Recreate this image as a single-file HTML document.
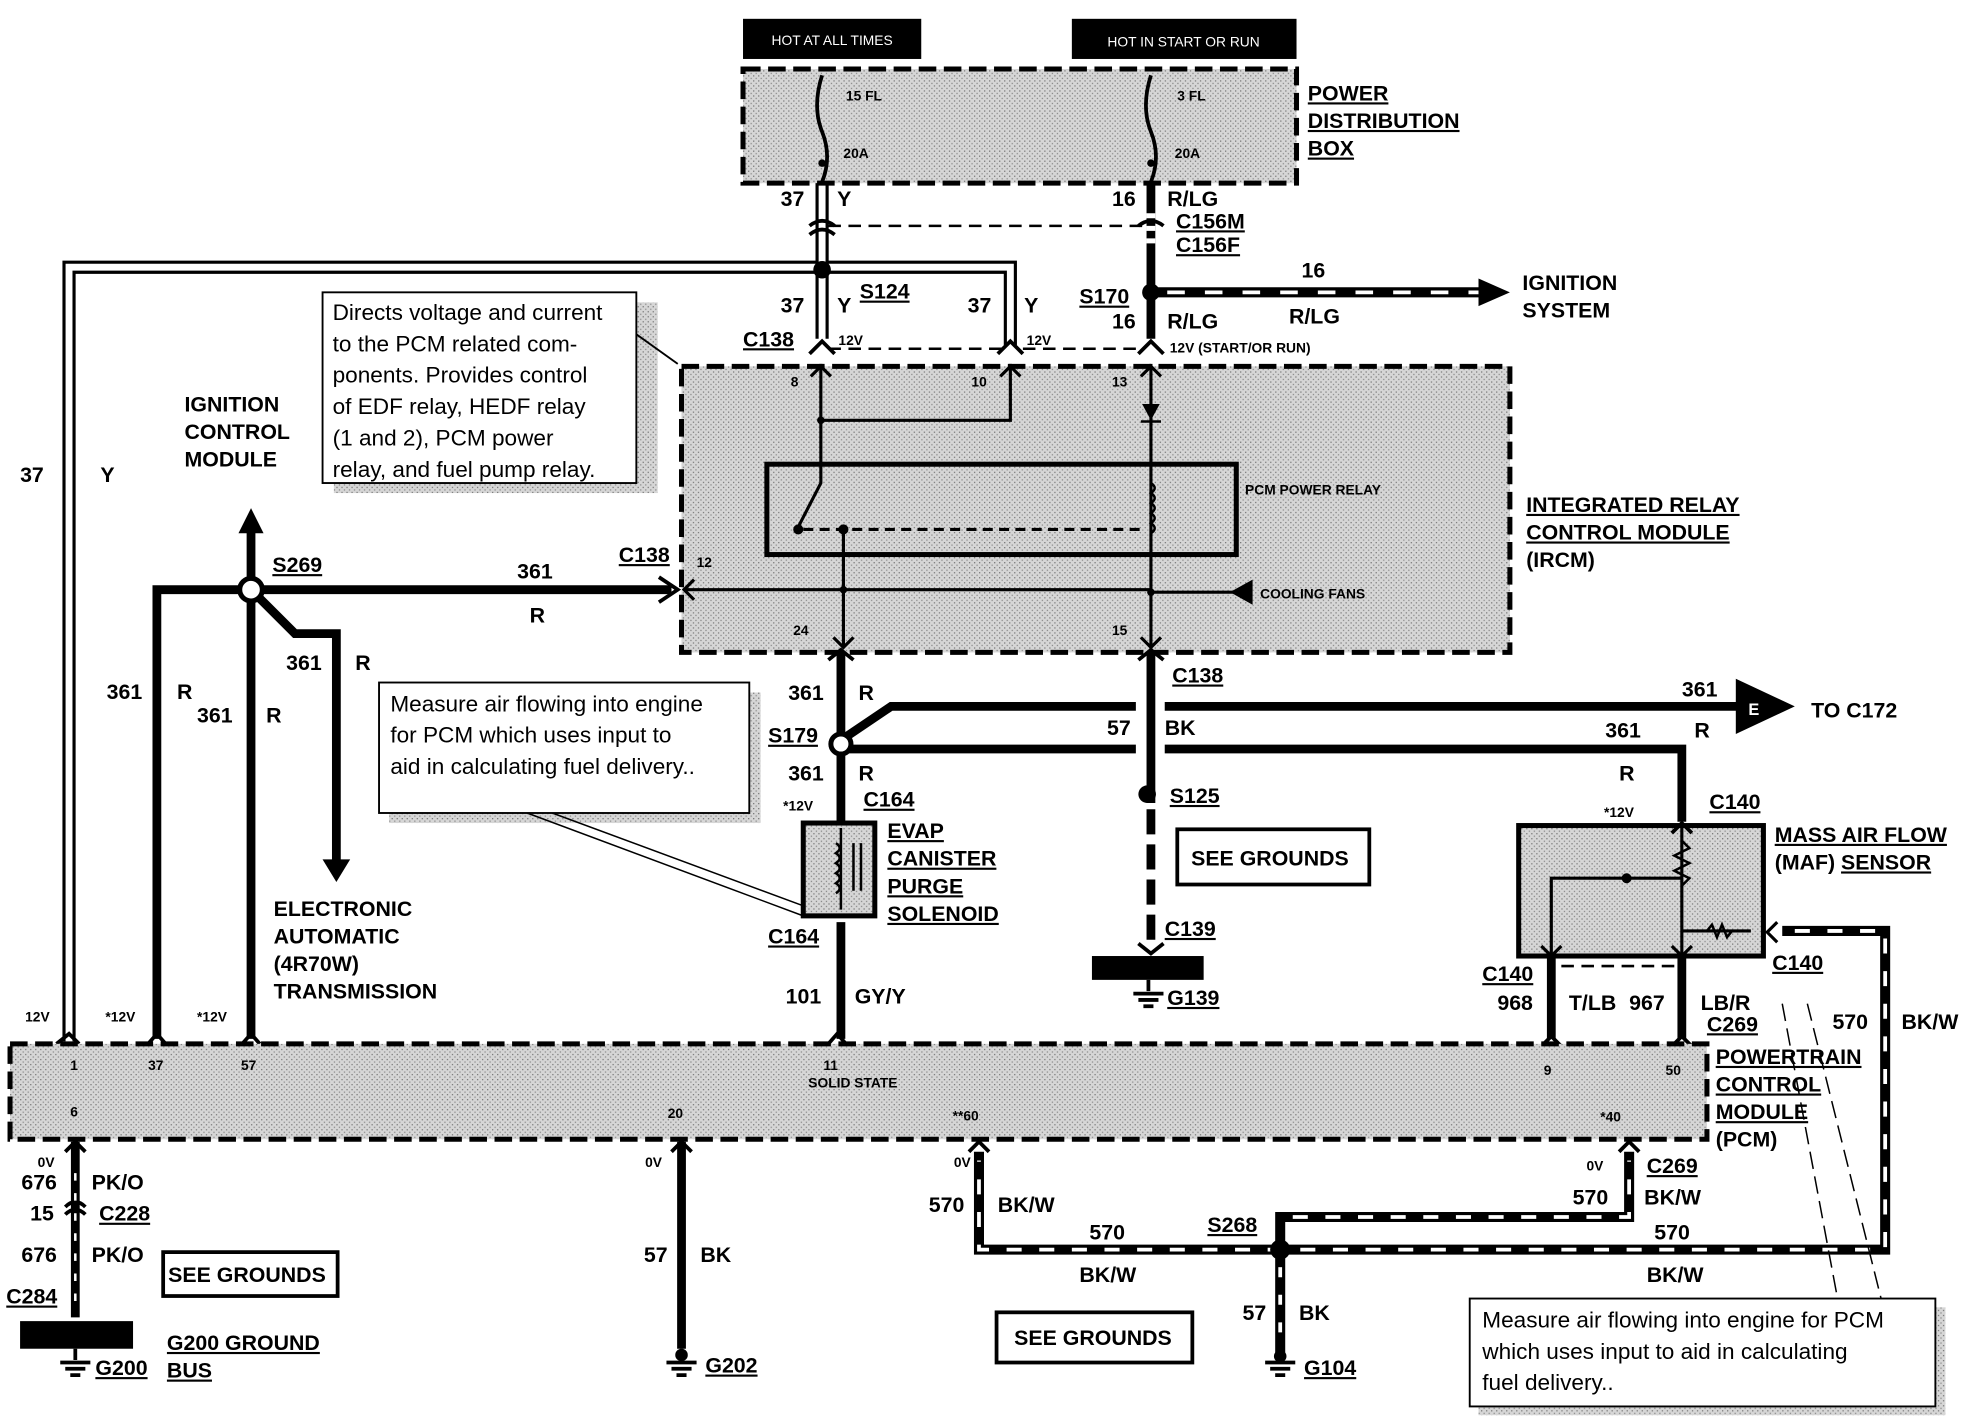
<!DOCTYPE html>
<html><head><meta charset="utf-8"><style>
html,body{margin:0;padding:0;background:#fff}
svg{display:block}
text{font-family:"Liberation Sans",Arial,sans-serif;font-weight:bold;fill:#000}
.s{font-size:11px}
.m{font-size:16px}
.l{font-size:17px}
.n{font-size:18px;font-weight:normal}
.u{text-decoration:underline}
</style></head><body>
<svg width="1968" height="1424" viewBox="0 0 1568 1135" preserveAspectRatio="none" xmlns="http://www.w3.org/2000/svg">
<defs>
<pattern id="g" width="4" height="4" patternUnits="userSpaceOnUse"><rect width="4" height="4" fill="#d6d6d6"/><rect width="1" height="1" fill="#777"/><rect x="2" y="2" width="1" height="1" fill="#888"/></pattern>
</defs>
<rect width="1568" height="1135" fill="#fff"/>
<rect x="592" y="15" width="142" height="32" fill="#000"/><text x="663" y="36" class="s" text-anchor="middle" style="fill:#fff;font-weight:normal">HOT AT ALL TIMES</text>
<rect x="854" y="15" width="179" height="32" fill="#000"/><text x="943" y="37" class="s" text-anchor="middle" style="fill:#fff;font-weight:normal">HOT IN START OR RUN</text>
<rect x="592" y="55" width="441" height="91" fill="url(#g)" stroke="#000" stroke-width="4" stroke-dasharray="14,6"/>
<path d="M655 60 q-8 25 0 45 q8 20 0 40 M917 60 q-8 25 0 45 q8 20 0 40" stroke="#000" stroke-width="3" fill="none"/>
<circle cx="655" cy="130" r="3"/><circle cx="917" cy="130" r="3"/>
<text x="674" y="80" class="s">15 FL</text><text x="672" y="126" class="s">20A</text>
<text x="938" y="80" class="s">3 FL</text><text x="936" y="126" class="s">20A</text>
<text x="1042" y="80" class="l u">POWER</text><text x="1042" y="102" class="l u">DISTRIBUTION</text><text x="1042" y="124" class="l u">BOX</text>
<g fill="none" stroke="#000">
<path d="M651 146 V270 M659 146 V270" stroke-width="2.5"/>
<path d="M51 830 V209 H651 M59 830 V217 H651 M659 209 H809 V275 M659 217 H801 V275" stroke-width="2.5"/>
<path d="M660 180 H912" stroke-width="2" stroke-dasharray="10,6"/>
<path d="M917 146 V270" stroke-width="7"/>
<path d="M917 170 V200" stroke-width="7" stroke="#fff" stroke-dasharray="4,6"/>
<path d="M917 233 H1180" stroke-width="8"/>
<path d="M930 233 H1180" stroke-width="3" stroke="#fff" stroke-dasharray="14,16"/>
</g>
<path d="M1178 222 L1203 233 L1178 244Z"/>
<path d="M645 180 q10 -8 20 0 M645 187 q10 -8 20 0 M907 180 q10 -8 20 0" stroke="#000" stroke-width="3" fill="none"/>
<circle cx="655" cy="215" r="7"/><circle cx="917" cy="233" r="7"/>
<text x="622" y="164" class="l">37</text><text x="667" y="164" class="l">Y</text>
<text x="886" y="164" class="l">16</text><text x="930" y="164" class="l">R/LG</text>
<text x="937" y="182" class="l u">C156M</text><text x="937" y="201" class="l u">C156F</text>
<text x="1037" y="221" class="l">16</text><text x="1027" y="258" class="l">R/LG</text>
<text x="1213" y="231" class="l">IGNITION</text><text x="1213" y="253" class="l">SYSTEM</text>
<text x="622" y="249" class="l">37</text><text x="667" y="249" class="l">Y</text><text x="685" y="238" class="l u">S124</text>
<text x="771" y="249" class="l">37</text><text x="816" y="249" class="l">Y</text>
<text x="860" y="242" class="l u">S170</text><text x="886" y="262" class="l">16</text><text x="930" y="262" class="l">R/LG</text>
<text x="592" y="276" class="l u">C138</text><text x="668" y="275" class="s">12V</text><text x="818" y="275" class="s">12V</text>
<text x="932" y="281" class="s">12V (START/OR RUN)</text>
<path d="M645 282 l10 -10 10 10 M795 282 l10 -10 10 10 M907 282 l10 -10 10 10" stroke="#000" stroke-width="3" fill="none"/>
<path d="M660 278 H800 M815 278 H905" stroke="#000" stroke-width="2" stroke-dasharray="10,6"/>
<rect x="543" y="292" width="660" height="228" fill="url(#g)" stroke="#000" stroke-width="4" stroke-dasharray="14,6"/>
<g fill="none" stroke="#000" stroke-width="2.5">
<path d="M654 290 V385 L636 420 M654 335 H805 V290 M917 290 V520 M672 420 V515 M545 470 H917 M917 472 H985"/>
<path d="M640 422 H910" stroke-dasharray="8,5"/>
<path d="M646 300 l8 -8 8 8 M797 300 l8 -8 8 8 M909 300 l8 -8 8 8 M664 508 l8 8 8 -8 M909 508 l8 8 8 -8 M553 462 l-8 8 8 8"/>
<path d="M917 385 q6 4 0 8 q6 4 0 8 q6 4 0 8 q6 4 0 8 q6 4 0 8" stroke-width="2"/>
</g>
<rect x="611" y="370" width="374" height="72" fill="none" stroke="#000" stroke-width="4"/>
<path d="M910 322 H924 L917 335Z"/><path d="M909 336 H925" stroke="#000" stroke-width="2"/>
<path d="M998 462 L980 472 L998 482Z"/>
<circle cx="654" cy="335" r="3"/><circle cx="672" cy="470" r="3"/><circle cx="917" cy="472" r="3"/><circle cx="636" cy="422" r="4"/><circle cx="672" cy="422" r="4"/>
<text x="630" y="308" class="s">8</text><text x="774" y="308" class="s">10</text><text x="886" y="308" class="s">13</text>
<text x="555" y="452" class="s">12</text><text x="632" y="506" class="s">24</text><text x="886" y="506" class="s">15</text>
<text x="992" y="394" class="s">PCM POWER  RELAY</text><text x="1004" y="477" class="s">COOLING FANS</text>
<text x="1216" y="408" class="l u">INTEGRATED RELAY</text><text x="1216" y="430" class="l u">CONTROL MODULE</text><text x="1216" y="452" class="l">(IRCM)</text>
<rect x="266" y="241" width="258" height="152" fill="url(#g)"/>
<path d="M505 265 L540 290" stroke="#000" stroke-width="1.5"/>
<rect x="257" y="233" width="250" height="152" fill="#fff" stroke="#000" stroke-width="1.5"/>
<text x="265" y="255" class="n">Directs voltage and current</text><text x="265" y="280" class="n">to the PCM related com-</text><text x="265" y="305" class="n">ponents. Provides control</text><text x="265" y="330" class="n">of EDF relay, HEDF relay</text><text x="265" y="355" class="n">(1 and 2), PCM power</text><text x="265" y="380" class="n">relay, and fuel pump relay.</text>
<text x="147" y="328" class="l">IGNITION</text><text x="147" y="350" class="l">CONTROL</text><text x="147" y="372" class="l">MODULE</text>
<text x="16" y="384" class="l">37</text><text x="80" y="384" class="l">Y</text>
<g fill="none" stroke="#000" stroke-width="7">
<path d="M535 470 H200 M200 470 H125 V828 M200 420 V828 M200 470 L235 505 H268 V690"/>
</g>
<path d="M190 425 L200 405 L210 425Z"/><path d="M257 685 L268 703 L279 685Z"/>
<path d="M525 460 L540 470 L525 480" stroke="#000" stroke-width="3" fill="none"/>
<circle cx="200" cy="470" r="9" fill="#fff" stroke="#000" stroke-width="4"/>
<text x="217" y="456" class="l u">S269</text><text x="412" y="461" class="l">361</text><text x="422" y="496" class="l">R</text><text x="493" y="448" class="l u">C138</text>
<text x="228" y="534" class="l">361</text><text x="283" y="534" class="l">R</text>
<text x="85" y="557" class="l">361</text><text x="141" y="557" class="l">R</text>
<text x="157" y="576" class="l">361</text><text x="212" y="576" class="l">R</text>
<text x="218" y="730" class="l">ELECTRONIC</text><text x="218" y="752" class="l">AUTOMATIC</text><text x="218" y="774" class="l">(4R70W)</text><text x="218" y="796" class="l">TRANSMISSION</text>
<text x="20" y="814" class="s">12V</text><text x="84" y="814" class="s">*12V</text><text x="157" y="814" class="s">*12V</text>
<path d="M45 832 l10 -8 8 8 M118 832 l7 -8 7 8 M193 832 l7 -8 7 8 M660 832 l7 -8 7 8" stroke="#000" stroke-width="3" fill="none"/>
<g fill="none" stroke="#000" stroke-width="7">
<path d="M670 520 V655 M670 590 L710 563 H905 M928 563 H1385 M670 597 H905 M928 597 H1340 V655 M917 520 V640 M670 735 V828"/>
<path d="M917 645 V750" stroke-dasharray="20,8"/>
</g>
<path d="M660 526 l10 -8 10 8 M907 526 l10 -8 10 8" stroke="#000" stroke-width="3" fill="none"/>
<path d="M1383 541 L1430 563 L1383 585Z"/><text x="1393" y="570" class="m" style="fill:#fff;font-size:13px">E</text>
<circle cx="670" cy="593" r="8" fill="#fff" stroke="#000" stroke-width="4"/><circle cx="914" cy="633" r="7"/>
<text x="628" y="558" class="l">361</text><text x="684" y="558" class="l">R</text><text x="934" y="544" class="l u">C138</text>
<text x="1340" y="555" class="l">361</text><text x="1443" y="572" class="l">TO C172</text>
<text x="882" y="586" class="l">57</text><text x="928" y="586" class="l">BK</text>
<text x="1279" y="588" class="l">361</text><text x="1350" y="588" class="l">R</text><text x="1290" y="622" class="l">R</text>
<text x="612" y="592" class="l u">S179</text><text x="628" y="622" class="l">361</text><text x="684" y="622" class="l">R</text>
<text x="624" y="646" class="s">*12V</text><text x="688" y="643" class="l u">C164</text>
<text x="932" y="640" class="l u">S125</text>
<rect x="640" y="656" width="57" height="74" fill="url(#g)" stroke="#000" stroke-width="4"/>
<path d="M670 660 V725 M666 672 q6 4 0 8 q6 4 0 8 q6 4 0 8 q6 4 0 8 q6 4 0 8 M680 672 V710 M686 672 V710" stroke="#000" stroke-width="2" fill="none"/>
<text x="707" y="668" class="l u">EVAP</text><text x="707" y="690" class="l u">CANISTER</text><text x="707" y="712" class="l u">PURGE</text><text x="707" y="734" class="l u">SOLENOID</text>
<text x="612" y="752" class="l u">C164</text>
<text x="626" y="800" class="l">101</text><text x="681" y="800" class="l">GY/Y</text>
<rect x="310" y="552" width="296" height="104" fill="url(#g)"/>
<path d="M420 648 L640 730 M440 648 L640 722" stroke="#000" stroke-width="1.2"/>
<rect x="302" y="544" width="295" height="104" fill="#fff" stroke="#000" stroke-width="1.5"/>
<text x="311" y="567" class="n">Measure air flowing into engine</text><text x="311" y="592" class="n">for PCM which uses input to</text><text x="311" y="617" class="n">aid in calculating fuel delivery..</text>
<rect x="938" y="661" width="153" height="44" fill="#fff" stroke="#000" stroke-width="3"/><text x="949" y="690" class="l">SEE GROUNDS</text>
<text x="928" y="746" class="l u">C139</text>
<path d="M907 752 l10 8 10 -8" stroke="#000" stroke-width="3" fill="none"/>
<rect x="870" y="762" width="89" height="19"/>
<path d="M915 781 V790 M903 792 H927 M907 797 H923 M911 802 H919" stroke="#000" stroke-width="3"/>
<text x="930" y="801" class="l u">G139</text>
<text x="1278" y="651" class="s">*12V</text><text x="1362" y="645" class="l u">C140</text>
<rect x="1210" y="658" width="195" height="104" fill="url(#g)" stroke="#000" stroke-width="4"/>
<path d="M1332 664 l8 -8 8 8" stroke="#000" stroke-width="3" fill="none"/>
<g fill="none" stroke="#000" stroke-width="2.5">
<path d="M1340 658 V762 M1236 762 V700 H1340 M1340 742 H1395"/>
<path d="M1340 670 l6 6 -12 6 12 6 -12 6 12 6 -6 6 M1360 742 l4 -5 4 10 4 -10 4 10 4 -5" stroke-width="2"/>
<path d="M1228 754 l8 8 8 -8 M1332 754 l8 8 8 -8 M1416 735 l-8 8 8 8"/>
</g>
<circle cx="1296" cy="700" r="4"/>
<text x="1414" y="671" class="l u">MASS AIR FLOW</text><text x="1414" y="693" class="l">(MAF) <tspan class="u">SENSOR</tspan></text>
<g fill="none" stroke="#000" stroke-width="7"><path d="M1236 762 V828 M1340 762 V828"/></g>
<path d="M1244 770 H1335" stroke="#000" stroke-width="2" stroke-dasharray="10,6"/>
<path d="M1228 834 l8 -8 8 8 M1332 834 l8 -8 8 8" stroke="#000" stroke-width="3" fill="none"/>
<text x="1181" y="782" class="l u">C140</text><text x="1193" y="805" class="l">968</text><text x="1250" y="805" class="l">T/LB</text><text x="1298" y="805" class="l">967</text>
<text x="1355" y="805" class="l">LB/R</text><text x="1360" y="822" class="l u">C269</text>
<text x="1412" y="773" class="l u">C140</text>
<text x="1460" y="820" class="l">570</text><text x="1515" y="820" class="l">BK/W</text>
<g fill="none" stroke="#000">
<path d="M1420 742 H1502 V996 H780 V918 M1020 996 V1080 M1020 996 V970 H1298 V918" stroke-width="8"/>
<path d="M1430 742 H1502 V996 H780 V925 M1030 970 H1298 V925" stroke-width="3" stroke="#fff" stroke-dasharray="12,14"/>
<path d="M1020 1010 V1070" stroke="#fff" stroke-width="3" stroke-dasharray="8,14"/>
<path d="M1420 800 L1465 1040 M1440 800 L1500 1040" stroke-width="1.2" stroke-dasharray="14,6"/>
</g>
<circle cx="1020" cy="996" r="8"/>
<rect x="8" y="832" width="1352" height="76" fill="url(#g)" stroke="#000" stroke-width="4" stroke-dasharray="14,6"/>
<text x="56" y="853" class="s">1</text><text x="118" y="853" class="s">37</text><text x="192" y="853" class="s">57</text><text x="656" y="853" class="s">11</text><text x="644" y="867" class="s">SOLID STATE</text>
<text x="1230" y="857" class="s">9</text><text x="1327" y="857" class="s">50</text>
<text x="56" y="890" class="s">6</text><text x="532" y="891" class="s">20</text><text x="759" y="893" class="s">**60</text><text x="1275" y="894" class="s">*40</text>
<text x="1367" y="848" class="l u">POWERTRAIN</text><text x="1367" y="870" class="l u">CONTROL</text><text x="1367" y="892" class="l u">MODULE</text><text x="1367" y="914" class="l">(PCM)</text>
<path d="M52 918 l8 -8 8 8 M535 918 l8 -8 8 8 M772 918 l8 -8 8 8 M1290 918 l8 -8 8 8 M52 962 q8 -8 16 0 M52 968 q8 -8 16 0" stroke="#000" stroke-width="3" fill="none"/>
<g fill="none" stroke="#000" stroke-width="7"><path d="M60 910 V1050 M543 910 V1075"/></g>
<path d="M60 935 V1045" stroke="#fff" stroke-width="2" stroke-dasharray="6,10"/>
<text x="30" y="930" class="s">0V</text><text x="17" y="948" class="l">676</text><text x="73" y="948" class="l">PK/O</text>
<text x="24" y="973" class="l">15</text><text x="79" y="973" class="l u">C228</text>
<text x="17" y="1006" class="l">676</text><text x="73" y="1006" class="l">PK/O</text>
<text x="5" y="1039" class="l u">C284</text>
<rect x="130" y="998" width="139" height="35" fill="#fff" stroke="#000" stroke-width="3"/><text x="134" y="1022" class="l">SEE GROUNDS</text>
<rect x="16" y="1053" width="90" height="22"/>
<path d="M60 1075 V1084 M48 1086 H72 M52 1091 H68 M56 1096 H64" stroke="#000" stroke-width="3"/>
<text x="76" y="1096" class="l u">G200</text><text x="133" y="1076" class="l u">G200 GROUND</text><text x="133" y="1098" class="l u">BUS</text>
<text x="514" y="930" class="s">0V</text><text x="513" y="1006" class="l">57</text><text x="558" y="1006" class="l">BK</text>
<path d="M543 1075 V1084 M531 1086 H555 M535 1091 H551 M539 1096 H547" stroke="#000" stroke-width="3"/><circle cx="543" cy="1080" r="5"/>
<text x="562" y="1094" class="l u">G202</text>
<text x="760" y="930" class="s">0V</text><text x="740" y="966" class="l">570</text><text x="795" y="966" class="l">BK/W</text>
<text x="868" y="988" class="l">570</text><text x="860" y="1022" class="l">BK/W</text>
<text x="962" y="982" class="l u">S268</text>
<text x="1264" y="933" class="s">0V</text><text x="1312" y="935" class="l u">C269</text>
<text x="1253" y="960" class="l">570</text><text x="1310" y="960" class="l">BK/W</text>
<text x="1318" y="988" class="l">570</text><text x="1312" y="1022" class="l">BK/W</text>
<rect x="794" y="1046" width="156" height="40" fill="#fff" stroke="#000" stroke-width="3"/><text x="808" y="1072" class="l">SEE GROUNDS</text>
<text x="990" y="1052" class="l">57</text><text x="1035" y="1052" class="l">BK</text>
<path d="M1020 1080 V1084 M1008 1086 H1032 M1012 1091 H1028 M1016 1096 H1024" stroke="#000" stroke-width="3"/><circle cx="1020" cy="1081" r="5"/>
<text x="1039" y="1096" class="l u">G104</text>
<rect x="1178" y="1042" width="372" height="86" fill="url(#g)"/>
<rect x="1171" y="1035" width="371" height="86" fill="#fff" stroke="#000" stroke-width="1.5"/>
<text x="1181" y="1058" class="n">Measure air flowing into engine for PCM</text><text x="1181" y="1083" class="n">which uses input to aid in calculating</text><text x="1181" y="1108" class="n">fuel delivery..</text>
</svg>
</body></html>
